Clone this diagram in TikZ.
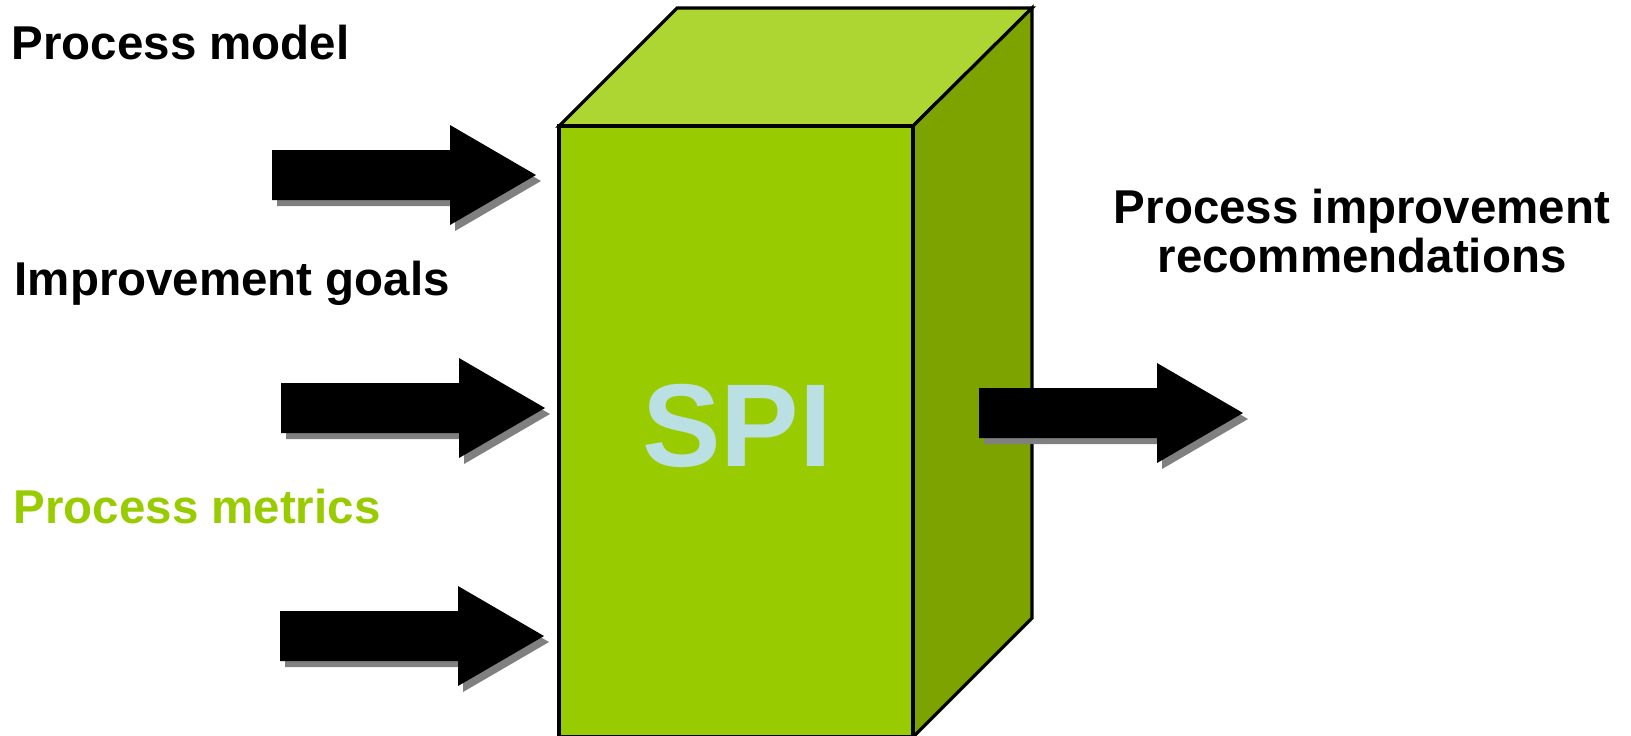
\documentclass[tikz,border=0pt]{standalone}
\usepackage{fontspec}
\setmainfont{Liberation Sans}
\usetikzlibrary{positioning}
\definecolor{spiFront}{RGB}{153,204,0}
\definecolor{spiTop}{RGB}{173,214,51}
\definecolor{spiSide}{RGB}{124,163,0}
\definecolor{spiText}{RGB}{187,224,227}
\tikzset{
    boxFace/.style={draw=black, line width=0.9pt, line join=miter},
    inLabel/.style={anchor=base west, inner sep=0pt, font=\fontsize{13.5}{14.2}\selectfont\bfseries},
    outLabel/.style={align=center, inner sep=0pt, font=\fontsize{13.5}{14.2}\selectfont\bfseries},
    spiLabel/.style={inner sep=0pt, text=spiText, font=\fontsize{33.5}{33.5}\selectfont\bfseries},
    arrowBody/.style={fill=black},
    arrowShadow/.style={fill=black!50},
}
% block arrow: name, left end of shaft (x,y)
\newcommand{\drawBlockArrow}[3]{
    \coordinate (#1) at (#2,#3);
    \fill[arrowShadow] ([shift={(5,6)}]#1) ++(0,-25) -- ++(178,0) -- ++(0,-25) -- ++(86,50) -- ++(-86,50) -- ++(0,-25) -- ++(-178,0) -- cycle;
    \fill[arrowBody] (#1) ++(0,-25) -- ++(178,0) -- ++(0,-25) -- ++(86,50) -- ++(-86,50) -- ++(0,-25) -- ++(-178,0) -- cycle;
}

\begin{document}
\begin{tikzpicture}[x=0.01cm, y=-0.01cm]
    \useasboundingbox (0,0) rectangle (1631,735);

    % the SPI box
    \filldraw[boxFace, fill=spiTop] (559,126) -- (677,8) -- (1032,8) -- (913,126) -- cycle;
    \filldraw[boxFace, fill=spiSide] (913,126) -- (1032,8) -- (1032,618) -- (913,737) -- cycle;
    \filldraw[boxFace, fill=spiFront] (559,126) rectangle (913,737);
    \node[spiLabel] (spi) at (737,426) {SPI};

    % inputs
    \node[inLabel] (model) at (11,59) {Process model};
    \node[inLabel] (goals) at (14,295) {Improvement goals};
    \node[inLabel, text=spiFront] (metrics) at (13,523) {Process metrics};

    \drawBlockArrow{inModel}{272}{175}
    \drawBlockArrow{inGoals}{281}{408}
    \drawBlockArrow{inMetrics}{280}{636}

    % output
    \drawBlockArrow{outRec}{979}{413}
    \node[outLabel] (rec) at (1362,231) {Process improvement\\recommendations};

\end{tikzpicture}
\end{document}
